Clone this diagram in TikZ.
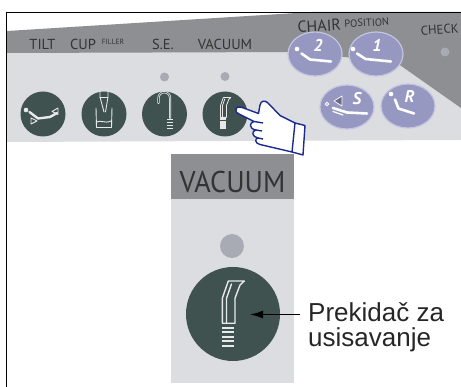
\documentclass[tikz,border=0pt]{standalone}
\usepackage{fontspec}
\setmainfont{Liberation Sans}
\newfontfamily\panelfont{PT Sans}
\usetikzlibrary{positioning,arrows.meta,shapes.geometric}

\definecolor{bandgray}{HTML}{8E8F93}
\definecolor{panelgray}{HTML}{DCDDE1}
\definecolor{btngreen}{HTML}{3F524F}
\definecolor{ledgray}{HTML}{A8ABB3}
\definecolor{btnpurple}{HTML}{9798C2}
\definecolor{rimpurple}{HTML}{C3C4DF}
\definecolor{inkgray}{HTML}{333333}
\definecolor{handblue}{HTML}{1B2A8E}
\definecolor{iconwhite}{HTML}{E8EAEA}

\tikzset{
  lbl/.style={font=\panelfont\fontsize{14.5}{14.5}\selectfont, text=inkgray, inner sep=0pt, anchor=base},
  greenbtn/.style={circle, fill=btngreen, inner sep=0pt, minimum size=#1},
  led/.style={circle, fill=ledgray, inner sep=0pt, minimum size=#1},
  chairbtn/.style={ellipse, fill=btnpurple, draw=rimpurple, line width=1.2pt,
    minimum width=54pt, minimum height=44pt, inner sep=0pt},
  icon/.style={draw=iconwhite, line cap=round, line join=round},
  chairline/.style={draw=white, line width=2.6pt, line cap=round, line join=round},
  btnnum/.style={font=\panelfont\bfseries\itshape\fontsize{17}{17}\selectfont, text=white, inner sep=0pt},
  hand/.style={fill=white, draw=handblue, line width=1.4pt, line join=round},
  pointer/.style={-{Latex[length=13pt,width=8pt]}, line width=1.6pt},
  % suction handpiece, drawn round its button centre
  pics/vacicon/.style={code={
    \draw[icon] (-10.7,9.3) -- (-10.7,-15.7) -- (-4.7,-33) -- (11.3,-33)
      -- (7,-29) -- (2,-15.7) -- (2,9.3) -- cycle;
    \draw[icon] (-1.5,-30) -- (-6.5,-15.7) -- (-6.5,9.3);
    \foreach \yy in {13.7,18.3,22.7,27,31.7}
      \draw[icon, line width=2pt, line cap=butt] (-10.7,\yy) -- (0.5,\yy);
  }}
}

\begin{document}
\begin{tikzpicture}[x=1pt, y=-1pt]
  \useasboundingbox (0,0) rectangle (461,387);

  % control strip
  \fill[panelgray] (7,52) -- (461,52) -- (461,140) -- (7,142) -- cycle;
  \fill[bandgray] (7,31) -- (312,12) -- (461,12) -- (461,108) -- (397,63)
    -- (300,52) -- (7,53) -- cycle;

  \node[lbl] (Tilt) at (42.5,50) {TILT};
  \node[lbl] (Cup) at (83,50) {CUP};
  \node[lbl, font=\panelfont\fontsize{7.5}{7.5}\selectfont] (Filler) at (113,45) {FILLER};
  \node[lbl] (SE) at (163,50) {S.E.};
  \node[lbl] (Vacuum) at (225,50) {VACUUM};
  \node[lbl, rotate=3, font=\panelfont\fontsize{16}{16}\selectfont] (Chair) at (319.5,31.5) {CHAIR};
  \node[lbl, rotate=3, font=\panelfont\fontsize{10.5}{10.5}\selectfont] (Position) at (367,26.5) {POSITION};
  \node[lbl, rotate=4, font=\panelfont\fontsize{12.8}{12.8}\selectfont] (Check) at (440,34) {CHECK};
  \node[led=9pt] (CheckLed) at (445,52) {};

  % green keys
  \node[greenbtn=45pt] (TiltBtn) at (43,114) {};
  \node[greenbtn=45pt] (CupBtn) at (104,114) {};
  \node[greenbtn=45pt] (SEBtn) at (164.5,114) {};
  \node[greenbtn=45pt] (VacBtn) at (225,114) {};
  \node[led=9pt] (SELed) at (164.5,77) {};
  \node[led=9pt] (VacLed) at (225,76.5) {};

  % tilt
  \fill[iconwhite] (26,110) circle (2.3);
  \draw[icon, line width=2.4pt] (29.5,112) -- (38,118.5) -- (50,117) -- (57,113);
  \draw[icon, line width=0.9pt] (31,118) -- (37,121) -- (31,124) -- cycle;
  \draw[icon, line width=0.9pt] (58,108) -- (52,111.5) -- (58,114.5) -- cycle;
  % cup filler
  \draw[icon, line width=0.9pt] (96,108) -- (96.5,127.5) -- (111.5,127.5) -- (112,108);
  \draw[icon, line width=0.9pt] (97,122) .. controls (101,119.5) and (104,124) .. (111,121);
  \draw[icon, line width=0.9pt] (100,90) -- (100,97) -- (104,112);
  \draw[icon, line width=0.9pt] (108,90) -- (108,97) -- (105.5,112);
  \draw[icon, line width=0.9pt] (100,97) -- (108,97);
  % saliva ejector
  \draw[icon, line width=2.2pt] (158.5,103) -- (158.5,98) arc[start angle=180, end angle=360, radius=5.8] -- (170.1,118);
  \draw[btngreen, line width=0.7pt] (158.5,103) -- (158.5,98) arc[start angle=180, end angle=360, radius=5.8] -- (170.1,118);
  \foreach \yy in {119.5,122.5,125.5,128.5}
    \draw[icon, line width=1.6pt, line cap=butt] (167.3,\yy) -- (173,\yy);
  % suction
  \pic[scale=0.47, line width=0.8pt] (VacSmall) at (225.5,113) {vacicon};

  % chair position keys
  \node[chairbtn] (PosTwo) at (315,54) {};
  \node[chairbtn] (PosOne) at (376,54) {};
  \node[chairbtn] (PosS) at (347,107) {};
  \node[chairbtn] (PosR) at (408,106) {};

  \fill[white] (297,49) circle (2.3);
  \draw[chairline] (301.5,53.5) -- (310,59.5) -- (331,61.5);
  \node[btnnum] (NumTwo) at (318,45) {2};
  \fill[white] (353,49) circle (2.3);
  \draw[chairline] (357,53.5) -- (365.5,59) -- (391,61.5);
  \node[btnnum] (NumOne) at (377,45) {1};
  \draw[white, line width=0.8pt] (327,104) circle (1.8);
  \draw[white, fill=btnpurple!70!black, line width=0.7pt, line join=round] (334,101) -- (342,96) -- (342,106) -- cycle;
  \draw[chairline] (333,108) -- (347,112.5) -- (367,113.5);
  \draw[white, line width=1.2pt, line cap=round] (333,111.5) -- (343,115);
  \node[btnnum] (NumS) at (357,99) {S};
  \fill[white] (391,94) circle (2.3);
  \draw[chairline] (395,99.5) -- (398.5,108.5) -- (414,113.5);
  \node[btnnum] (NumR) at (409.5,96) {R};

  % pointing hand
  \filldraw[hand] (236,110)
    .. controls (236,106.5) and (239,106.5) .. (243,107.8)
    -- (258.5,113.5)
    -- (260,105) .. controls (261,100.5) and (265,100) .. (268,103)
    -- (280,115.5) -- (295,123) -- (305,125.5)
    -- (303,155) -- (292,152) -- (260,144.5)
    .. controls (255,143.5) and (254.5,138.5) .. (258,138)
    .. controls (252,137) and (251,131) .. (256,130)
    .. controls (249,129) and (249,122.5) .. (254,121.5)
    -- (239,114) .. controls (236,113) and (235.8,111.5) .. (236,110) -- cycle;
  \draw[hand, fill=none] (295,123) -- (292,152);
  \draw[hand, fill=none] (254,121.5) -- (263,123);
  \draw[hand, fill=none] (256,130) -- (262,131);
  \draw[hand, fill=none] (258,138) -- (263,139);

  % enlarged vacuum key
  \fill[bandgray] (171,154) rectangle (294,199);
  \fill[panelgray] (171,199) rectangle (294,383);
  \node[lbl, font=\panelfont\fontsize{30}{30}\selectfont] (VacuumBig) at (232.5,193) {\scalebox{0.94}[1]{VACUUM}};
  \node[led=24pt] (BigLed) at (232,246) {};
  \node[greenbtn=94pt] (BigBtn) at (233,314) {};
  \pic[line width=1.4pt] (VacBig) at (233,314) {vacicon};

  % callout
  \node[anchor=north west, align=left, inner sep=0pt, text=black!85,
    font=\fontsize{26}{25}\selectfont] (Note) at (308,302) {Prekidač za\\usisavanje};
  \coordinate (NoteTail) at (300,314.5);
  \coordinate (NoteTip) at (250,314.5);
  \draw[pointer] (NoteTail) -- (NoteTip);

  % frame
  \draw[line width=1.4pt] (6.7,387) -- (6.7,12.5) -- (461,12.5);
\end{tikzpicture}
\end{document}
